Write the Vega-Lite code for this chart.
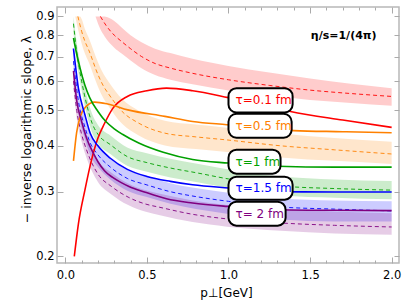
{
  "$schema": "https://vega.github.io/schema/vega-lite/v6.json",
  "width": 342,
  "height": 256,
  "autosize": "none",
  "padding": {"left": 57, "top": 7, "right": 8, "bottom": 42},
  "background": "white",
  "config": {
    "view": {"stroke": "#b8b8b8", "strokeWidth": 1.5},
    "axis": {"labelFont": "DejaVu Sans", "titleFont": "DejaVu Sans", "labelColor": "#000", "titleColor": "#000", "grid": false, "domain": false, "titleFontWeight": "normal"}
  },
  "datasets": {
    "bands": [
      {"tau": "0.1", "x": 0.185, "lo": 0.9, "hi": 0.9},
      {"tau": "0.1", "x": 0.215, "lo": 0.83, "hi": 0.9},
      {"tau": "0.1", "x": 0.24, "lo": 0.795, "hi": 0.9},
      {"tau": "0.1", "x": 0.3, "lo": 0.74, "hi": 0.875},
      {"tau": "0.1", "x": 0.345, "lo": 0.713, "hi": 0.84},
      {"tau": "0.1", "x": 0.4, "lo": 0.683, "hi": 0.8},
      {"tau": "0.1", "x": 0.467, "lo": 0.65, "hi": 0.765},
      {"tau": "0.1", "x": 0.55, "lo": 0.623, "hi": 0.735},
      {"tau": "0.1", "x": 0.644, "lo": 0.605, "hi": 0.715},
      {"tau": "0.1", "x": 0.78, "lo": 0.588, "hi": 0.69},
      {"tau": "0.1", "x": 1.0, "lo": 0.566, "hi": 0.66},
      {"tau": "0.1", "x": 1.25, "lo": 0.548, "hi": 0.633},
      {"tau": "0.1", "x": 1.5, "lo": 0.533, "hi": 0.61},
      {"tau": "0.1", "x": 1.75, "lo": 0.523, "hi": 0.59},
      {"tau": "0.1", "x": 2.0, "lo": 0.514, "hi": 0.574},
      {"tau": "0.5", "x": 0.061, "lo": 0.9, "hi": 0.9},
      {"tau": "0.5", "x": 0.077, "lo": 0.833, "hi": 0.9},
      {"tau": "0.5", "x": 0.09, "lo": 0.79, "hi": 0.9},
      {"tau": "0.5", "x": 0.1, "lo": 0.76, "hi": 0.886},
      {"tau": "0.5", "x": 0.12, "lo": 0.713, "hi": 0.832},
      {"tau": "0.5", "x": 0.143, "lo": 0.676, "hi": 0.788},
      {"tau": "0.5", "x": 0.2, "lo": 0.579, "hi": 0.675},
      {"tau": "0.5", "x": 0.235, "lo": 0.537, "hi": 0.626},
      {"tau": "0.5", "x": 0.266, "lo": 0.512, "hi": 0.597},
      {"tau": "0.5", "x": 0.348, "lo": 0.459, "hi": 0.536},
      {"tau": "0.5", "x": 0.45, "lo": 0.427, "hi": 0.498},
      {"tau": "0.5", "x": 0.61, "lo": 0.401, "hi": 0.468},
      {"tau": "0.5", "x": 0.8, "lo": 0.392, "hi": 0.457},
      {"tau": "0.5", "x": 0.99, "lo": 0.385, "hi": 0.448},
      {"tau": "0.5", "x": 1.32, "lo": 0.372, "hi": 0.432},
      {"tau": "0.5", "x": 1.65, "lo": 0.364, "hi": 0.42},
      {"tau": "0.5", "x": 2.0, "lo": 0.357, "hi": 0.41},
      {"tau": "1", "x": 0.05, "lo": 0.81, "hi": 0.9},
      {"tau": "1", "x": 0.07, "lo": 0.679, "hi": 0.763},
      {"tau": "1", "x": 0.1, "lo": 0.566, "hi": 0.636},
      {"tau": "1", "x": 0.13, "lo": 0.49, "hi": 0.551},
      {"tau": "1", "x": 0.164, "lo": 0.435, "hi": 0.489},
      {"tau": "1", "x": 0.2, "lo": 0.406, "hi": 0.456},
      {"tau": "1", "x": 0.276, "lo": 0.38, "hi": 0.427},
      {"tau": "1", "x": 0.379, "lo": 0.353, "hi": 0.396},
      {"tau": "1", "x": 0.5, "lo": 0.34, "hi": 0.382},
      {"tau": "1", "x": 0.644, "lo": 0.328, "hi": 0.369},
      {"tau": "1", "x": 0.8, "lo": 0.319, "hi": 0.358},
      {"tau": "1", "x": 1.0, "lo": 0.307, "hi": 0.345},
      {"tau": "1", "x": 1.32, "lo": 0.293, "hi": 0.33},
      {"tau": "1", "x": 1.65, "lo": 0.289, "hi": 0.324},
      {"tau": "1", "x": 2.0, "lo": 0.286, "hi": 0.321},
      {"tau": "1.5", "x": 0.05, "lo": 0.63, "hi": 0.717},
      {"tau": "1.5", "x": 0.08, "lo": 0.491, "hi": 0.559},
      {"tau": "1.5", "x": 0.12, "lo": 0.417, "hi": 0.475},
      {"tau": "1.5", "x": 0.15, "lo": 0.38, "hi": 0.433},
      {"tau": "1.5", "x": 0.2, "lo": 0.35, "hi": 0.399},
      {"tau": "1.5", "x": 0.276, "lo": 0.324, "hi": 0.369},
      {"tau": "1.5", "x": 0.38, "lo": 0.302, "hi": 0.344},
      {"tau": "1.5", "x": 0.5, "lo": 0.29, "hi": 0.33},
      {"tau": "1.5", "x": 0.644, "lo": 0.278, "hi": 0.3165},
      {"tau": "1.5", "x": 0.8, "lo": 0.269, "hi": 0.307},
      {"tau": "1.5", "x": 1.0, "lo": 0.261, "hi": 0.298},
      {"tau": "1.5", "x": 1.32, "lo": 0.252, "hi": 0.2876},
      {"tau": "1.5", "x": 1.65, "lo": 0.249, "hi": 0.284},
      {"tau": "1.5", "x": 2.0, "lo": 0.249, "hi": 0.2824},
      {"tau": "2", "x": 0.05, "lo": 0.571, "hi": 0.654},
      {"tau": "2", "x": 0.07, "lo": 0.476, "hi": 0.545},
      {"tau": "2", "x": 0.1, "lo": 0.41, "hi": 0.469},
      {"tau": "2", "x": 0.13, "lo": 0.371, "hi": 0.425},
      {"tau": "2", "x": 0.2, "lo": 0.319, "hi": 0.365},
      {"tau": "2", "x": 0.283, "lo": 0.295, "hi": 0.338},
      {"tau": "2", "x": 0.385, "lo": 0.276, "hi": 0.316},
      {"tau": "2", "x": 0.488, "lo": 0.265, "hi": 0.303},
      {"tau": "2", "x": 0.58, "lo": 0.259, "hi": 0.296},
      {"tau": "2", "x": 0.78, "lo": 0.248, "hi": 0.284},
      {"tau": "2", "x": 0.99, "lo": 0.241, "hi": 0.276},
      {"tau": "2", "x": 1.32, "lo": 0.235, "hi": 0.269},
      {"tau": "2", "x": 1.65, "lo": 0.231, "hi": 0.265},
      {"tau": "2", "x": 2.0, "lo": 0.229, "hi": 0.262}
    ],
    "dashed": [
      {"tau": "0.1", "x": 0.215, "y": 0.9},
      {"tau": "0.1", "x": 0.25, "y": 0.85},
      {"tau": "0.1", "x": 0.3, "y": 0.8},
      {"tau": "0.1", "x": 0.345, "y": 0.769},
      {"tau": "0.1", "x": 0.4, "y": 0.735},
      {"tau": "0.1", "x": 0.467, "y": 0.7},
      {"tau": "0.1", "x": 0.55, "y": 0.67},
      {"tau": "0.1", "x": 0.644, "y": 0.651},
      {"tau": "0.1", "x": 0.78, "y": 0.63},
      {"tau": "0.1", "x": 1.0, "y": 0.605},
      {"tau": "0.1", "x": 1.25, "y": 0.584},
      {"tau": "0.1", "x": 1.5, "y": 0.567},
      {"tau": "0.1", "x": 1.75, "y": 0.555},
      {"tau": "0.1", "x": 2.0, "y": 0.545},
      {"tau": "0.5", "x": 0.077, "y": 0.9},
      {"tau": "0.5", "x": 0.1, "y": 0.82},
      {"tau": "0.5", "x": 0.12, "y": 0.77},
      {"tau": "0.5", "x": 0.143, "y": 0.73},
      {"tau": "0.5", "x": 0.2, "y": 0.625},
      {"tau": "0.5", "x": 0.235, "y": 0.58},
      {"tau": "0.5", "x": 0.266, "y": 0.553},
      {"tau": "0.5", "x": 0.348, "y": 0.496},
      {"tau": "0.5", "x": 0.45, "y": 0.461},
      {"tau": "0.5", "x": 0.61, "y": 0.433},
      {"tau": "0.5", "x": 0.8, "y": 0.423},
      {"tau": "0.5", "x": 0.99, "y": 0.415},
      {"tau": "0.5", "x": 1.32, "y": 0.4},
      {"tau": "0.5", "x": 1.65, "y": 0.39},
      {"tau": "0.5", "x": 2.0, "y": 0.38},
      {"tau": "1", "x": 0.05, "y": 0.86},
      {"tau": "1", "x": 0.07, "y": 0.72},
      {"tau": "1", "x": 0.1, "y": 0.6},
      {"tau": "1", "x": 0.13, "y": 0.52},
      {"tau": "1", "x": 0.164, "y": 0.461},
      {"tau": "1", "x": 0.2, "y": 0.43},
      {"tau": "1", "x": 0.276, "y": 0.403},
      {"tau": "1", "x": 0.379, "y": 0.374},
      {"tau": "1", "x": 0.5, "y": 0.36},
      {"tau": "1", "x": 0.644, "y": 0.348},
      {"tau": "1", "x": 0.8, "y": 0.338},
      {"tau": "1", "x": 1.0, "y": 0.325},
      {"tau": "1", "x": 1.32, "y": 0.311},
      {"tau": "1", "x": 1.65, "y": 0.306},
      {"tau": "1", "x": 2.0, "y": 0.303},
      {"tau": "1.5", "x": 0.05, "y": 0.68},
      {"tau": "1.5", "x": 0.08, "y": 0.53},
      {"tau": "1.5", "x": 0.12, "y": 0.45},
      {"tau": "1.5", "x": 0.15, "y": 0.41},
      {"tau": "1.5", "x": 0.2, "y": 0.378},
      {"tau": "1.5", "x": 0.276, "y": 0.35},
      {"tau": "1.5", "x": 0.38, "y": 0.326},
      {"tau": "1.5", "x": 0.5, "y": 0.313},
      {"tau": "1.5", "x": 0.644, "y": 0.3},
      {"tau": "1.5", "x": 0.8, "y": 0.291},
      {"tau": "1.5", "x": 1.0, "y": 0.2824},
      {"tau": "1.5", "x": 1.32, "y": 0.2726},
      {"tau": "1.5", "x": 1.65, "y": 0.269},
      {"tau": "1.5", "x": 2.0, "y": 0.266},
      {"tau": "2", "x": 0.05, "y": 0.6},
      {"tau": "2", "x": 0.07, "y": 0.5},
      {"tau": "2", "x": 0.1, "y": 0.43},
      {"tau": "2", "x": 0.13, "y": 0.39},
      {"tau": "2", "x": 0.2, "y": 0.335},
      {"tau": "2", "x": 0.283, "y": 0.31},
      {"tau": "2", "x": 0.385, "y": 0.29},
      {"tau": "2", "x": 0.488, "y": 0.278},
      {"tau": "2", "x": 0.58, "y": 0.272},
      {"tau": "2", "x": 0.78, "y": 0.2604},
      {"tau": "2", "x": 0.99, "y": 0.253},
      {"tau": "2", "x": 1.32, "y": 0.2466},
      {"tau": "2", "x": 1.65, "y": 0.243},
      {"tau": "2", "x": 2.0, "y": 0.2405}
    ],
    "solid": [
      {"tau": "0.1", "x": 0.055, "y": 0.2},
      {"tau": "0.1", "x": 0.08, "y": 0.245},
      {"tau": "0.1", "x": 0.12, "y": 0.303},
      {"tau": "0.1", "x": 0.16, "y": 0.365},
      {"tau": "0.1", "x": 0.2, "y": 0.42},
      {"tau": "0.1", "x": 0.24, "y": 0.46},
      {"tau": "0.1", "x": 0.29, "y": 0.505},
      {"tau": "0.1", "x": 0.38, "y": 0.545},
      {"tau": "0.1", "x": 0.5, "y": 0.565},
      {"tau": "0.1", "x": 0.62, "y": 0.574},
      {"tau": "0.1", "x": 0.78, "y": 0.565},
      {"tau": "0.1", "x": 1.0, "y": 0.541},
      {"tau": "0.1", "x": 1.2, "y": 0.518},
      {"tau": "0.1", "x": 1.38, "y": 0.496},
      {"tau": "0.1", "x": 1.7, "y": 0.47},
      {"tau": "0.1", "x": 2.0, "y": 0.449},
      {"tau": "0.5", "x": 0.05, "y": 0.364},
      {"tau": "0.5", "x": 0.069, "y": 0.434},
      {"tau": "0.5", "x": 0.09, "y": 0.478},
      {"tau": "0.5", "x": 0.12, "y": 0.508},
      {"tau": "0.5", "x": 0.18, "y": 0.526},
      {"tau": "0.5", "x": 0.26, "y": 0.52},
      {"tau": "0.5", "x": 0.383, "y": 0.501},
      {"tau": "0.5", "x": 0.61, "y": 0.481},
      {"tau": "0.5", "x": 0.78, "y": 0.466},
      {"tau": "0.5", "x": 0.99, "y": 0.4565},
      {"tau": "0.5", "x": 1.4, "y": 0.44},
      {"tau": "0.5", "x": 1.7, "y": 0.437},
      {"tau": "0.5", "x": 2.0, "y": 0.434},
      {"tau": "1", "x": 0.05, "y": 0.786},
      {"tau": "1", "x": 0.07, "y": 0.71},
      {"tau": "1", "x": 0.09, "y": 0.652},
      {"tau": "1", "x": 0.12, "y": 0.585},
      {"tau": "1", "x": 0.15, "y": 0.54},
      {"tau": "1", "x": 0.2, "y": 0.496},
      {"tau": "1", "x": 0.25, "y": 0.465},
      {"tau": "1", "x": 0.3, "y": 0.445},
      {"tau": "1", "x": 0.35, "y": 0.43},
      {"tau": "1", "x": 0.45, "y": 0.407},
      {"tau": "1", "x": 0.6, "y": 0.384},
      {"tau": "1", "x": 0.78, "y": 0.367},
      {"tau": "1", "x": 1.0, "y": 0.359},
      {"tau": "1", "x": 1.3, "y": 0.352},
      {"tau": "1", "x": 1.65, "y": 0.35},
      {"tau": "1", "x": 2.0, "y": 0.35},
      {"tau": "1.5", "x": 0.05, "y": 0.736},
      {"tau": "1.5", "x": 0.08, "y": 0.574},
      {"tau": "1.5", "x": 0.12, "y": 0.486},
      {"tau": "1.5", "x": 0.153, "y": 0.432},
      {"tau": "1.5", "x": 0.2, "y": 0.4},
      {"tau": "1.5", "x": 0.276, "y": 0.37},
      {"tau": "1.5", "x": 0.38, "y": 0.345},
      {"tau": "1.5", "x": 0.5, "y": 0.33},
      {"tau": "1.5", "x": 0.644, "y": 0.32},
      {"tau": "1.5", "x": 0.78, "y": 0.3134},
      {"tau": "1.5", "x": 1.0, "y": 0.307},
      {"tau": "1.5", "x": 1.3, "y": 0.3},
      {"tau": "1.5", "x": 1.65, "y": 0.2995},
      {"tau": "1.5", "x": 2.0, "y": 0.2995},
      {"tau": "2", "x": 0.05, "y": 0.64},
      {"tau": "2", "x": 0.07, "y": 0.53},
      {"tau": "2", "x": 0.1, "y": 0.466},
      {"tau": "2", "x": 0.13, "y": 0.42},
      {"tau": "2", "x": 0.174, "y": 0.38},
      {"tau": "2", "x": 0.2, "y": 0.362},
      {"tau": "2", "x": 0.24, "y": 0.342},
      {"tau": "2", "x": 0.29, "y": 0.328},
      {"tau": "2", "x": 0.34, "y": 0.318},
      {"tau": "2", "x": 0.39, "y": 0.31},
      {"tau": "2", "x": 0.49, "y": 0.299},
      {"tau": "2", "x": 0.62, "y": 0.287},
      {"tau": "2", "x": 0.78, "y": 0.2795},
      {"tau": "2", "x": 0.99, "y": 0.2736},
      {"tau": "2", "x": 1.32, "y": 0.268},
      {"tau": "2", "x": 1.65, "y": 0.267},
      {"tau": "2", "x": 2.0, "y": 0.2664}
    ],
    "boxes": [
      {"tau": "0.1", "label": "τ=0.1 fm", "x1": 1.0, "x2": 1.393, "y1": 0.493, "y2": 0.574, "ym": 0.532},
      {"tau": "0.5", "label": "τ=0.5 fm", "x1": 1.0, "x2": 1.387, "y1": 0.4207, "y2": 0.489, "ym": 0.4536},
      {"tau": "1", "label": "τ=1 fm", "x1": 1.0, "x2": 1.319, "y1": 0.3359, "y2": 0.3904, "ym": 0.3621},
      {"tau": "1.5", "label": "τ=1.5 fm", "x1": 1.0, "x2": 1.393, "y1": 0.2854, "y2": 0.3296, "ym": 0.3067},
      {"tau": "2", "label": "τ= 2 fm", "x1": 1.0, "x2": 1.35, "y1": 0.2425, "y2": 0.2818, "ym": 0.2614}
    ]
  },
  "resolve": {"axis": {"x": "independent", "y": "independent"}},
  "layer": [
    {
      "data": {"name": "bands"},
      "mark": {"type": "area", "opacity": 0.2, "clip": true, "interpolate": "monotone"},
      "encoding": {
        "x": {"field": "x", "type": "quantitative",
          "scale": {"domain": [-0.051, 2.045], "nice": false, "zero": false},
          "axis": {"orient": "bottom", "values": [0, 0.5, 1, 1.5, 2], "format": ".1f", "ticks": false, "labelPadding": 6, "labelFontSize": 11.5,
            "title": "p⊥[GeV]", "titleFontSize": 12, "titleX": 169, "titleY": 24}},
        "y": {"field": "lo", "type": "quantitative",
          "scale": {"type": "log", "domain": [0.1919, 0.9546], "nice": false},
          "axis": {"orient": "left", "values": [0.2, 0.3, 0.4, 0.5, 0.6, 0.7, 0.8, 0.9], "format": ".1f", "ticks": false, "labelPadding": 3, "labelFontSize": 11.5,
            "title": "− inverse logarithmic slope, λ", "titleFontSize": 12.5, "titleX": -24, "titleY": 122}},
        "y2": {"field": "hi"},
        "color": {"field": "tau", "type": "nominal",
          "scale": {"domain": ["0.1", "0.5", "1", "1.5", "2"], "range": ["#ff0000", "#ff8000", "#00a000", "#0000ff", "#800080"]},
          "legend": null}
      }
    },
    {
      "data": {"name": "dashed"},
      "mark": {"type": "line", "strokeDash": [4, 3], "strokeWidth": 0.9, "clip": true, "interpolate": "monotone"},
      "encoding": {
        "x": {"field": "x", "type": "quantitative",
          "scale": {"domain": [-0.051, 2.045], "nice": false, "zero": false},
          "axis": {"orient": "bottom", "values": [0, 0.1, 0.2, 0.3, 0.4, 0.5, 0.6, 0.7, 0.8, 0.9, 1, 1.1, 1.2, 1.3, 1.4, 1.5, 1.6, 1.7, 1.8, 1.9, 2],
            "labels": false, "title": null, "tickColor": "#aaaaaa", "tickWidth": 1,
            "tickSize": {"condition": {"test": "abs(datum.value*2 - round(datum.value*2)) < 0.01", "value": -6}, "value": -3}}},
        "y": {"field": "y", "type": "quantitative",
          "scale": {"type": "log", "domain": [0.1919, 0.9546], "nice": false},
          "axis": {"orient": "left", "values": [0.2, 0.3, 0.4, 0.5, 0.6, 0.7, 0.8, 0.9], "labels": false, "title": null, "tickColor": "#aaaaaa", "tickSize": -6}},
        "color": {"field": "tau", "type": "nominal", "legend": null}
      }
    },
    {
      "data": {"name": "solid"},
      "mark": {"type": "line", "strokeWidth": 1.6, "clip": true, "interpolate": "monotone"},
      "encoding": {
        "x": {"field": "x", "type": "quantitative",
          "scale": {"domain": [-0.051, 2.045], "nice": false, "zero": false},
          "axis": {"orient": "top", "values": [0, 0.1, 0.2, 0.3, 0.4, 0.5, 0.6, 0.7, 0.8, 0.9, 1, 1.1, 1.2, 1.3, 1.4, 1.5, 1.6, 1.7, 1.8, 1.9, 2],
            "labels": false, "title": null, "tickColor": "#aaaaaa", "tickWidth": 1,
            "tickSize": {"condition": {"test": "abs(datum.value*2 - round(datum.value*2)) < 0.01", "value": -6}, "value": -3}}},
        "y": {"field": "y", "type": "quantitative",
          "scale": {"type": "log", "domain": [0.1919, 0.9546], "nice": false},
          "axis": {"orient": "right", "values": [0.2, 0.3, 0.4, 0.5, 0.6, 0.7, 0.8, 0.9], "labels": false, "title": null, "tickColor": "#aaaaaa", "tickSize": -5}},
        "color": {"field": "tau", "type": "nominal", "legend": null}
      }
    },
    {
      "data": {"name": "boxes"},
      "mark": {"type": "rect", "fill": "white", "stroke": "black", "strokeWidth": 2, "cornerRadius": 8},
      "encoding": {
        "x": {"field": "x1", "type": "quantitative", "axis": null, "scale": {"domain": [-0.051, 2.045], "nice": false, "zero": false}},
        "x2": {"field": "x2"},
        "y": {"field": "y1", "type": "quantitative", "axis": null, "scale": {"type": "log", "domain": [0.1919, 0.9546], "nice": false}},
        "y2": {"field": "y2"}
      }
    },
    {
      "data": {"name": "boxes"},
      "mark": {"type": "text", "font": "DejaVu Sans", "fontSize": 12, "align": "left", "baseline": "middle", "dx": 7},
      "encoding": {
        "x": {"field": "x1", "type": "quantitative", "axis": null, "scale": {"domain": [-0.051, 2.045], "nice": false, "zero": false}},
        "y": {"field": "ym", "type": "quantitative", "axis": null, "scale": {"type": "log", "domain": [0.1919, 0.9546], "nice": false}},
        "text": {"field": "label"},
        "color": {"field": "tau", "type": "nominal", "legend": null}
      }
    },
    {
      "data": {"values": [{"x": 1.706, "y": 0.794, "t": "η/s=1/(4π)"}]},
      "mark": {"type": "text", "font": "DejaVu Sans", "fontSize": 11, "fontWeight": "bold", "align": "center", "baseline": "middle", "color": "black"},
      "encoding": {
        "x": {"field": "x", "type": "quantitative", "axis": null, "scale": {"domain": [-0.051, 2.045], "nice": false, "zero": false}},
        "y": {"field": "y", "type": "quantitative", "axis": null, "scale": {"type": "log", "domain": [0.1919, 0.9546], "nice": false}},
        "text": {"field": "t"}
      }
    }
  ]
}
